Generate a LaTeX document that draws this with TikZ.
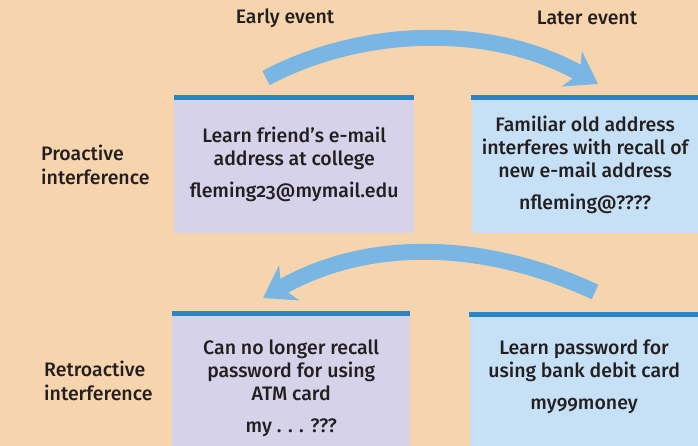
\documentclass[tikz,border=0pt]{standalone}
\usepackage{fontspec}
\setmainfont{Fira Sans Medium}[RawFeature={+onum}]
\usetikzlibrary{arrows.meta, positioning, calc}
\definecolor{paper}{HTML}{F6D5AE}
\definecolor{ink}{HTML}{231F20}
\definecolor{lilac}{HTML}{D5D2E9}
\definecolor{sky}{HTML}{C6E1F5}
\definecolor{barblue}{HTML}{2A85C8}
\definecolor{flow}{HTML}{7AB6E3}
\tikzset{
  evbox/.style={anchor=north west, inner sep=0pt, minimum height=150pt},
  topbar/.style={draw=barblue, line width=5pt},
  txt/.style={align=center, inner sep=0pt, text=ink, font=\fontsize{19.5}{23}\selectfont},
  side/.style={align=left, anchor=west, inner sep=0pt, text=ink, font=\fontsize{19.5}{24}\selectfont},
  fl/.style={draw=flow, line width=16pt, -{Stealth[length=30pt, width=40pt, inset=9pt]}},
}
\begin{document}
\begin{tikzpicture}[x=1pt, y=-1pt]
  \fill[paper] (0,0) rectangle (698,446);
  \useasboundingbox (0,0) rectangle (698,446);
  % event boxes
  \node[evbox, fill=lilac, minimum width=240pt, minimum height=135.5pt] (a) at (174,97.5) {};
  \node[evbox, fill=sky, minimum width=227pt, minimum height=135.5pt, right=57pt of a.north east, anchor=north west] (b) {};
  \node[evbox, fill=lilac, minimum width=238pt] (c) at (172,313.5) {};
  \node[evbox, fill=sky, minimum width=229pt, right=59pt of c.north east, anchor=north west, yshift=-1pt] (d) {};
  \foreach \n in {a,b,c,d}
    \draw[topbar] (\n.north west) -- (\n.north east);
  % box texts
  \node[txt] (ta) at ($(a.center)+(0,-1)$) {Learn friend’s e-mail\\address at college\\[9pt]fleming23@mymail.edu};
  \node[txt] (tb) at ($(b.center)+(0,-1)$) {Familiar old address\\interferes with recall of\\new e-mail address\\[9pt]nfleming@????};
  \node[txt] (tc) at ($(c.north)+(0,75)$) {Can no longer recall\\password for using\\ATM card\\[9pt]my . . . ???};
  \node[txt] (td) at ($(d.north)+(0,62)$) {Learn password for\\using bank debit card\\[9pt]my99money};
  % headings and side labels
  \node[txt] (early) at (285,18) {Early event};
  \node[txt] (later) at (587,18) {Later event};
  \node[side] (pro) at (41,165) {Proactive\\interference};
  \node[side] (retro) at (44,381) {Retroactive\\interference};
  % arrows
  \coordinate (p1) at (266,78);
  \coordinate (p2) at (598,84);
  \coordinate (r1) at (595,292);
  \coordinate (r2) at (263,298);
  \draw[fl] (p1) .. controls (366,25) and (496,25) .. (p2);
  \draw[fl] (r1) .. controls (481,239) and (365,239) .. (r2);
\end{tikzpicture}
\end{document}
